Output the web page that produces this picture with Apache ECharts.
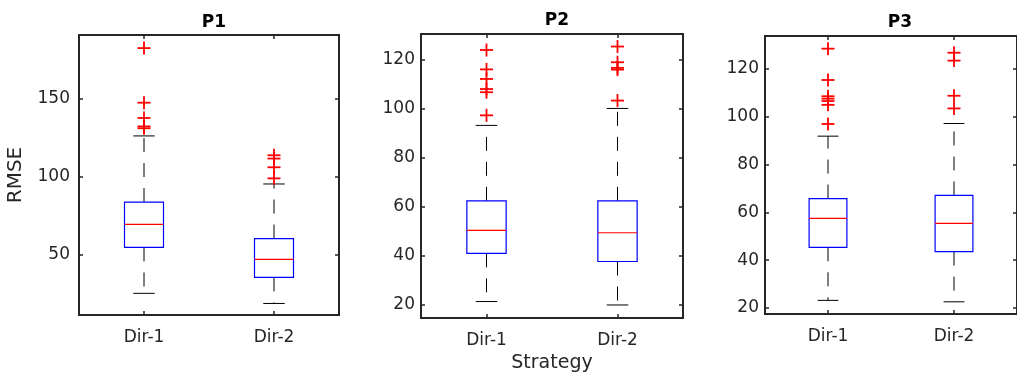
<!DOCTYPE html>
<html>
<head>
<meta charset="utf-8">
<script src="https://cdn.jsdelivr.net/npm/echarts@6/dist/echarts.min.js"></script>
<style>
html,body{margin:0;padding:0;background:#fff;}
#chart{width:1017px;height:378px;}
</style>
</head>
<body>
<div id="chart"></div>
<script>
// ---- data ----
const categories = ['Dir-1', 'Dir-2'];
const panelTitles = ['P1', 'P2', 'P3'];
// box stats: [lower whisker, Q1, median, Q3, upper whisker]
const p1Dir1 = [25.2, 54.6, 69.4, 83.7, 126.1];
const p1Dir2 = [18.7, 35.4, 47.0, 60.3, 95.3];
const p2Dir1 = [21.4, 41.0, 50.4, 62.4, 93.1];
const p2Dir2 = [20.0, 37.7, 49.4, 62.4, 100.0];
const p3Dir1 = [23.2, 45.4, 57.5, 65.8, 91.9];
const p3Dir2 = [22.6, 43.6, 55.4, 67.1, 97.2];
// outliers
const p1Dir1Out = [182.4, 147.4, 137.6, 132.2, 131.0];
const p1Dir2Out = [113.7, 111.6, 106.0, 98.9];
const p2Dir1Out = [123.8, 115.9, 112.0, 107.9, 106.6, 97.2];
const p2Dir2Out = [125.2, 118.8, 116.5, 115.8, 103.2];
const p3Dir1Out = [128.5, 115.4, 108.6, 107.6, 106.6, 105.0, 97.0];
const p3Dir2Out = [126.8, 123.5, 108.8, 103.5];
// y-axis limits and tick steps
const p1YRange = [11.3, 190.8];
const p2YRange = [14.7, 130.3];
const p3YRange = [17.5, 133.8];
const yTickSteps = [50, 20, 20];
const ySplitNumbers = [4, 5, 5];

// ---- layout ----
const grids = [
  {left: 79, top: 35, width: 260, height: 280},
  {left: 421, top: 34, width: 262, height: 284},
  {left: 765, top: 36, width: 260, height: 278}
];
const FONT = 'DejaVu Sans';
const TXT = '#262626';
const FRAME = '#262626';

const stats = [[p1Dir1, p1Dir2], [p2Dir1, p2Dir2], [p3Dir1, p3Dir2]];
const outs = [[p1Dir1Out, p1Dir2Out], [p2Dir1Out, p2Dir2Out], [p3Dir1Out, p3Dir2Out]];
const yRanges = [p1YRange, p2YRange, p3YRange];

function boxRender(params, api) {
  const c = api.value(0);
  const lo = api.value(1), q1 = api.value(2), med = api.value(3), q3 = api.value(4), hi = api.value(5);
  const band = api.size([1, 0])[0];
  const bw = band * 0.3, cw = band * 0.165;
  const pLo = api.coord([c, lo]), pQ1 = api.coord([c, q1]), pMed = api.coord([c, med]);
  const pQ3 = api.coord([c, q3]), pHi = api.coord([c, hi]);
  const x = pMed[0];
  const dash = {stroke: '#000', lineWidth: 1, lineDash: [14, 11]};
  const solid = {stroke: '#000', lineWidth: 1};
  return {
    type: 'group',
    children: [
      {type: 'line', shape: {x1: x, y1: pQ3[1], x2: x, y2: pHi[1]}, style: dash},
      {type: 'line', shape: {x1: x, y1: pQ1[1], x2: x, y2: pLo[1]}, style: dash},
      {type: 'line', shape: {x1: x - cw / 2, y1: pHi[1], x2: x + cw / 2, y2: pHi[1]}, style: solid},
      {type: 'line', shape: {x1: x - cw / 2, y1: pLo[1], x2: x + cw / 2, y2: pLo[1]}, style: solid},
      {type: 'rect', shape: {x: x - bw / 2, y: pQ3[1], width: bw, height: pQ1[1] - pQ3[1]},
        style: {fill: 'none', stroke: '#0000ff', lineWidth: 1.2}},
      {type: 'line', shape: {x1: x - bw / 2, y1: pMed[1], x2: x + bw / 2, y2: pMed[1]},
        style: {stroke: '#ff0000', lineWidth: 1.2}}
    ]
  };
}

function outRender(params, api) {
  const p = api.coord([api.value(0), api.value(1)]);
  const h = 6.5;
  const st = {stroke: '#ff0000', lineWidth: 1.8};
  return {
    type: 'group',
    children: [
      {type: 'line', shape: {x1: p[0] - h, y1: p[1], x2: p[0] + h, y2: p[1]}, style: st},
      {type: 'line', shape: {x1: p[0], y1: p[1] - h, x2: p[0], y2: p[1] + h}, style: st}
    ]
  };
}

const option = {
  animation: false,
  backgroundColor: '#fff',
  title: [], grid: [], xAxis: [], yAxis: [], series: []
};

for (let i = 0; i < 3; i++) {
  const g = grids[i];
  option.grid.push(Object.assign({show: true, borderColor: FRAME, borderWidth: 2, backgroundColor: '#fff'}, g));
  option.title.push({
    text: panelTitles[i],
    left: g.left + g.width / 2, top: 9 - (i === 1 ? 1.5 : 0),
    textAlign: 'center',
    textStyle: {fontFamily: FONT, fontWeight: 'bold', fontSize: 17, color: '#000'}
  });
  const step = yTickSteps[i];
  // primary x (bottom)
  option.xAxis.push({
    type: 'category', gridIndex: i, data: categories, position: 'bottom',
    boundaryGap: true,
    axisLine: {show: true, lineStyle: {color: FRAME, width: 2}},
    axisTick: {show: true, inside: true, alignWithLabel: true, length: 4, lineStyle: {color: FRAME, width: 1.5}},
    axisLabel: {color: TXT, fontFamily: FONT, fontSize: 17, margin: 14},
    name: i === 1 ? 'Strategy' : '', nameLocation: 'middle', nameGap: 23,
    nameTextStyle: {color: TXT, fontFamily: FONT, fontSize: 19},
    splitLine: {show: false}
  });
  // top x (ticks only)
  option.xAxis.push({
    type: 'category', gridIndex: i, data: categories, position: 'top',
    boundaryGap: true,
    axisLine: {show: true, lineStyle: {color: FRAME, width: 2}},
    axisTick: {show: true, inside: true, alignWithLabel: true, length: 4, lineStyle: {color: FRAME, width: 1.5}},
    axisLabel: {show: false}, splitLine: {show: false}
  });
  const yBase = {
    type: 'value', gridIndex: i, min: yRanges[i][0], max: yRanges[i][1], splitNumber: ySplitNumbers[i],
    axisLine: {show: true, lineStyle: {color: FRAME, width: 2}},
    axisTick: {show: true, inside: true, length: 4, lineStyle: {color: FRAME, width: 1.5}},
    splitLine: {show: false}
  };
  option.yAxis.push(Object.assign({}, yBase, {
    position: 'left',
    axisLabel: {
      color: TXT, fontFamily: FONT, fontSize: 17, margin: i === 0 ? 9 : 6,
      showMinLabel: false, showMaxLabel: false,
      formatter: v => (Math.abs(v / step - Math.round(v / step)) < 1e-6 ? String(Math.round(v)) : '')
    },
    name: i === 0 ? 'RMSE' : '', nameLocation: 'middle', nameGap: 53,
    nameTextStyle: {color: TXT, fontFamily: FONT, fontSize: 20}
  }));
  option.yAxis.push(Object.assign({}, yBase, {position: 'right', axisLabel: {show: false}}));

  const boxData = stats[i].map((s, k) => [k].concat(s));
  option.series.push({
    type: 'custom', xAxisIndex: 2 * i, yAxisIndex: 2 * i,
    renderItem: boxRender, data: boxData,
    encode: {x: 0, y: [1, 2, 3, 4, 5]}, clip: false, z: 2
  });
  const outData = [];
  outs[i].forEach((arr, k) => arr.forEach(v => outData.push([k, v])));
  option.series.push({
    type: 'custom', xAxisIndex: 2 * i, yAxisIndex: 2 * i,
    renderItem: outRender, data: outData,
    encode: {x: 0, y: 1}, clip: false, z: 3
  });
}

const chart = echarts.init(document.getElementById('chart'), null, {renderer: 'canvas'});
chart.setOption(option);
</script>
</body>
</html>
